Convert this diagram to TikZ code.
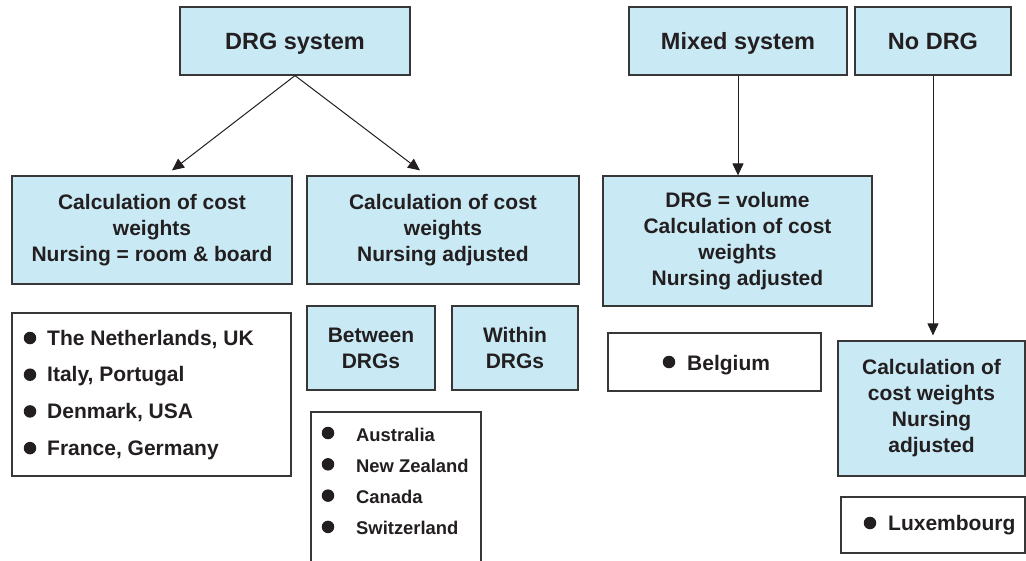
\documentclass[tikz,border=0pt]{standalone}
\usepackage{fontspec}
\setmainfont{Liberation Sans}
\usetikzlibrary{arrows.meta,calc}
\definecolor{boxfill}{RGB}{201,233,245}
\definecolor{ink}{RGB}{35,31,32}
\definecolor{frame}{RGB}{55,55,55}
\begin{document}
\begin{tikzpicture}[x=1pt,y=-1pt,
  box/.style={draw=frame,line width=1.2pt,rectangle,inner sep=2pt,align=center,
    text=ink,font=\fontsize{21}{26}\selectfont\bfseries},
  bluebox/.style={box,fill=boxfill},
  topbox/.style={bluebox,font=\fontsize{23.5}{28}\selectfont\bfseries,text height=17pt,text depth=0pt},
  whitebox/.style={box,fill=white},
  item/.style={anchor=base west,inner sep=0pt,text=ink,font=\fontsize{21}{26}\selectfont\bfseries},
  smallitem/.style={item,font=\fontsize{18.4}{22}\selectfont\bfseries},
  dot/.style={circle,fill=ink,draw=none,inner sep=0pt,outer sep=0pt,minimum size=12.5pt},
  conn/.style={draw=ink,line width=1pt,-{Triangle[length=12pt,width=11pt]}}]
\useasboundingbox (0,0) rectangle (1026,560);

% top level systems
\node[topbox,minimum width=230,minimum height=68] (drg) at (295,41) {DRG system};
\node[topbox,minimum width=218,minimum height=68] (mixed) at (738,41) {Mixed system};
\node[topbox,minimum width=156,minimum height=68] (nodrg) at (933,41) {No DRG};

% calculation boxes
\node[bluebox,minimum width=280,minimum height=108] (calc1) at (152,230)
  {Calculation of cost\\weights\\Nursing = room \& board};
\node[bluebox,minimum width=272,minimum height=108] (calc2) at (443,230)
  {Calculation of cost\\weights\\Nursing adjusted};
\node[bluebox,minimum width=269,minimum height=130] (calc3) at (737.5,241)
  {DRG = volume\\Calculation of cost\\weights\\Nursing adjusted};
\node[bluebox,minimum width=187,minimum height=135] (calc4) at (931.5,408.5)
  {Calculation of\\cost weights\\Nursing\\adjusted};

% sub-variants of nursing adjustment
\node[bluebox,minimum width=128,minimum height=84] (between) at (371,348) {Between\\DRGs};
\node[bluebox,minimum width=126,minimum height=84] (within) at (515,348) {Within\\DRGs};

% country lists
\node[whitebox,minimum width=279,minimum height=163] (list1) at (151.5,394.5) {};
\foreach \c [count=\i] in {{The Netherlands, UK},{Italy, Portugal},{Denmark, USA},{France, Germany}}{
  \node[dot] (d1-\i) at (30,{345+36.7*(\i-1)-7}) {};
  \node[item] (t1-\i) at (47,{345+36.7*(\i-1)}) {\c};
}

\node[whitebox,minimum width=170,minimum height=158] (list2) at (396,491) {};
\foreach \c [count=\i] in {Australia,New Zealand,Canada,Switzerland}{
  \node[dot] (d2-\i) at (328,{441+31.3*(\i-1)-8}) {};
  \node[smallitem] (t2-\i) at (356,{441+31.3*(\i-1)}) {\c};
}

\node[whitebox,minimum width=213,minimum height=58] (belgium) at (714.5,362) {};
\node[dot] (d3) at (669,362) {};
\node[item] (t3) at (687,370) {Belgium};

\node[whitebox,minimum width=184,minimum height=56] (lux) at (933,525) {};
\node[dot] (d4) at (870,523) {};
\node[item] (t4) at (888,530) {Luxembourg};

% connectors
\draw[conn] (drg.south) -- ($(calc1.north)+(20,-5)$);
\draw[conn] (drg.south) -- ($(calc2.north)+(-23,-5)$);
\draw[conn] (mixed.south) -- (mixed.south |- calc3.north);
\draw[conn,shorten >=5pt] (nodrg.south) -- (nodrg.south |- calc4.north);
\end{tikzpicture}
\end{document}
